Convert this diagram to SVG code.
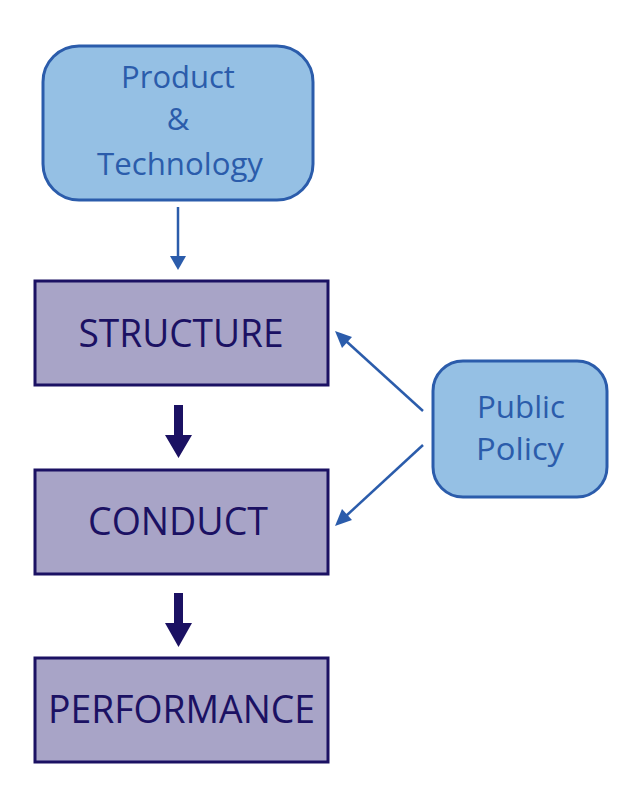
<svg xmlns="http://www.w3.org/2000/svg" width="630" height="810" viewBox="0 0 630 810">
<defs>
<style>
.blue{fill:#95c0e4;stroke:#2b5cab;stroke-width:3}
.purple{fill:#a8a4c7;stroke:#1b1163;stroke-width:3}
.bt{font-family:"Open Sans","Noto Sans",sans-serif;fill:#2b5cab;text-anchor:middle}
.pt{font-family:"Open Sans","Noto Sans",sans-serif;fill:#1b1163;text-anchor:middle;font-size:39px}
.thin{stroke:#2b5cab;stroke-width:2.5;fill:none}
</style>
<marker id="ah" markerWidth="8" markerHeight="8" refX="7" refY="4" orient="auto" markerUnits="userSpaceOnUse" viewBox="0 0 8 8">
<path d="M0,0 L8,4 L0,8 Z" fill="#2b5cab"/>
</marker>
</defs>
<rect width="630" height="810" fill="#ffffff"/>
<g id="product">
<rect class="blue" x="43" y="46" width="270" height="154" rx="36"/>
<text class="bt" font-size="31" x="178" y="88">Product</text>
<text class="bt" font-size="31" x="178" y="130">&amp;</text>
<text class="bt" font-size="31" x="180" y="175" textLength="166" lengthAdjust="spacingAndGlyphs">Technology</text>
</g>
<g id="structure">
<rect class="purple" x="35" y="281" width="293" height="104"/>
<text class="pt" x="181" y="347" textLength="205" lengthAdjust="spacingAndGlyphs">STRUCTURE</text>
</g>
<g id="conduct">
<rect class="purple" x="35" y="470" width="293" height="104"/>
<text class="pt" x="178" y="535" textLength="180" lengthAdjust="spacingAndGlyphs">CONDUCT</text>
</g>
<g id="performance">
<rect class="purple" x="35" y="658" width="293" height="104"/>
<text class="pt" x="181.5" y="723" textLength="267" lengthAdjust="spacingAndGlyphs">PERFORMANCE</text>
</g>
<g id="policy">
<rect class="blue" x="433" y="361" width="174" height="136" rx="30"/>
<text class="bt" font-size="31" x="521" y="418" textLength="88" lengthAdjust="spacingAndGlyphs">Public</text>
<text class="bt" font-size="31" x="520" y="460" textLength="88" lengthAdjust="spacingAndGlyphs">Policy</text>
</g>
<g id="connectors">
<path d="M178,207 V257" class="thin"/>
<path d="M170,256 L186,256 L178,270 Z" fill="#2b5cab"/>
<path d="M423,411 L346,341" class="thin"/>
<path d="M335,331 L352,337 L342,348 Z" fill="#2b5cab"/>
<path d="M423,445 L346,516" class="thin"/>
<path d="M335,526 L342,509 L352,520 Z" fill="#2b5cab"/>
<path d="M174,405 H183 V435 H192 L178.5,458 L165,435 H174 Z" fill="#1b1163"/>
<path d="M174,593 H183 V623 H192 L178.5,647 L165,623 H174 Z" fill="#1b1163"/>
</g>
</svg>
